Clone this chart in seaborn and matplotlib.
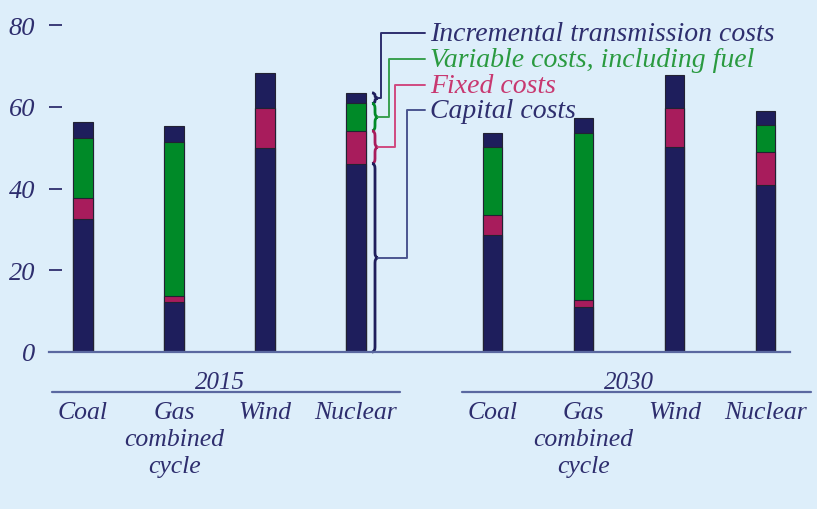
import numpy as np
import pandas as pd
import matplotlib
matplotlib.use("Agg")
import matplotlib.pyplot as plt
from matplotlib.path import Path
from matplotlib.patches import PathPatch
import seaborn as sns

# data
years = ["2015", "2030"]
sources = ["Coal", "Gas\ncombined\ncycle", "Wind", "Nuclear"]
capital_2015 = [32.5, 12.3, 50.0, 46.1]
fixed_2015 = [5.1, 1.5, 9.6, 8.0]
variable_2015 = [14.7, 37.7, 0.0, 6.7]
transmission_2015 = [3.9, 3.7, 8.7, 2.6]
capital_2030 = [28.7, 11.0, 50.1, 40.9]
fixed_2030 = [4.9, 1.6, 9.5, 8.1]
variable_2030 = [16.5, 41.0, 0.0, 6.6]
transmission_2030 = [3.6, 3.6, 8.2, 3.3]
yticks = [0, 20, 40, 60, 80]
legend_labels = ["Incremental transmission costs", "Variable costs, including fuel",
                 "Fixed costs", "Capital costs"]

bg = "#ddeefa"
navy = "#1e1e5c"
green = "#008a28"
magenta = "#a81c5c"
axis_col = "#5a68a0"
txt_navy = "#2e2e6e"
txt_green = "#2a9a40"
txt_pink = "#c83870"
serif = ["Liberation Serif", "DejaVu Serif"]

rows = []
for g, yr in enumerate(years):
    cap = capital_2015 if g == 0 else capital_2030
    fix = fixed_2015 if g == 0 else fixed_2030
    var = variable_2015 if g == 0 else variable_2030
    tr = transmission_2015 if g == 0 else transmission_2030
    for i, s in enumerate(sources):
        rows.append({"year": yr, "source": s, "pos": i + g * 4.5,
                     "capital": cap[i], "fixed": fix[i], "variable": var[i],
                     "transmission": tr[i]})
df = pd.DataFrame(rows)
df["c1"] = df["capital"]
df["c2"] = df["c1"] + df["fixed"]
df["c3"] = df["c2"] + df["variable"]
df["c4"] = df["c3"] + df["transmission"]

sns.set_style("white")
plt.rcParams["font.family"] = serif
plt.rcParams["font.style"] = "italic"

fig = plt.figure(figsize=(8.17, 5.10), dpi=100, facecolor=bg)
ax = fig.add_axes([49 / 817, 157 / 510, 741 / 817, 335 / 510])
ax.set_facecolor(bg)

# stacked bars by overdrawing the cumulative totals
for col, c in [("c4", navy), ("c3", green), ("c2", magenta), ("c1", navy)]:
    sns.barplot(data=df, x="pos", y=col, native_scale=True, color=c, width=0.21,
                edgecolor="#222233", linewidth=0.8, saturation=1, errorbar=None, ax=ax)

ax.set_xlim(-0.374, 7.77)
ax.set_ylim(0, 81.96)
ax.set_xlabel("")
ax.set_ylabel("")
ax.set_xticks([])
ax.set_yticks(yticks)
ax.set_yticklabels([str(t) for t in yticks], fontsize=19, color=txt_navy, style="italic")
ax.tick_params(axis="y", left=True, direction="in", length=9, width=1.3,
               color=txt_navy, pad=10)
for sp in ["top", "right", "left"]:
    ax.spines[sp].set_visible(False)
ax.spines["bottom"].set_color(axis_col)
ax.spines["bottom"].set_linewidth(1.6)

# group labels under the axis
trans = ax.get_xaxis_transform()
for g, yr in enumerate(years):
    x0 = g * 4.5
    ax.text(x0 + 1.5, -0.09, yr, transform=trans, ha="center", va="center",
            fontsize=18, color=txt_navy)
    xs = [-0.34, 3.48] if g == 0 else [4.16, 8.0]
    ax.plot(xs, [-0.119, -0.119], transform=trans, color=axis_col, lw=1.6, clip_on=False)
    for i, s in enumerate(sources):
        ax.text(x0 + i, -0.145, s, transform=trans, ha="center", va="top",
                fontsize=18.5, color=txt_navy, linespacing=1.3)


def brace(x, y0, y1, w, color):
    q = min(1.2, (y1 - y0) / 4)
    ym = (y0 + y1) / 2
    xm = x + w / 2
    verts = [(x, y0), (xm, y0), (xm, y0 + q), (xm, ym - q), (xm, ym), (x + w, ym),
             (xm, ym), (xm, ym + q), (xm, y1 - q), (xm, y1), (x, y1)]
    codes = [Path.MOVETO, Path.CURVE3, Path.CURVE3, Path.LINETO, Path.CURVE3, Path.CURVE3,
             Path.CURVE3, Path.CURVE3, Path.LINETO, Path.CURVE3, Path.CURVE3]
    ax.add_patch(PathPatch(Path(verts, codes), fill=False, edgecolor=color, lw=2,
                           clip_on=False))
    return ym


# braces and leader lines next to the 2015 nuclear bar
nuc = df[(df["year"] == "2015") & (df["source"] == "Nuclear")].iloc[0]
bounds = [(nuc["c3"], nuc["c4"]), (nuc["c2"], nuc["c3"]), (nuc["c1"], nuc["c2"]), (0, nuc["c1"])]
brace_cols = [navy, green, magenta, navy]
line_cols = [txt_navy, "#3aa050", "#d04a80", "#4a5590"]
text_cols = [txt_navy, txt_green, txt_pink, txt_navy]
elbows = [3.27, 3.36, 3.43, 3.56]
label_y = [78.0, 71.6, 65.3, 59.1]
for k in range(4):
    lo, hi = bounds[k]
    ym = brace(3.176, lo, hi, 0.066, brace_cols[k])
    ax.plot([3.242, elbows[k], elbows[k], 3.76], [ym, ym, label_y[k], label_y[k]],
            color=line_cols[k], lw=1.4, clip_on=False)
    ax.text(3.81, label_y[k], legend_labels[k], ha="left", va="center", fontsize=20,
            color=text_cols[k])

fig.savefig("out.png", dpi=100, facecolor=bg)
